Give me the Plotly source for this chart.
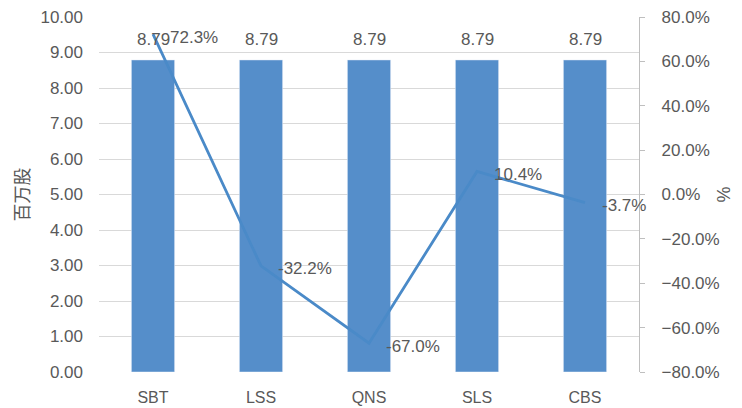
import plotly.graph_objects as go

categories = ["SBT", "LSS", "QNS", "SLS", "CBS"]
shares = [8.79, 8.79, 8.79, 8.79, 8.79]
change_pct = [72.3, -32.2, -67.0, 10.4, -3.7]

bar_color = "#558ECA"
line_color = "#4A8AC8"
text_color = "#595959"
font_family = "Liberation Sans, Arial, sans-serif"

fig = go.Figure()
fig.add_trace(go.Bar(
    x=categories, y=shares, marker_color=bar_color, width=0.4,
    yaxis="y", showlegend=False, hoverinfo="y",
))
fig.add_trace(go.Scatter(
    x=categories, y=[v / 100 for v in change_pct], mode="lines",
    line=dict(color=line_color, width=2.8),
    cliponaxis=False, yaxis="y2", showlegend=False,
))

for c, v in zip(categories, shares):
    fig.add_annotation(x=c, y=v, xref="x", yref="y", text=f"{v:.2f}",
                       showarrow=False, yshift=20,
                       font=dict(size=17, color=text_color, family=font_family))

for c, v in zip(categories, change_pct):
    fig.add_annotation(x=c, y=v / 100, xref="x", yref="y2", text=f"{v:.1f}%",
                       showarrow=False, xanchor="left", xshift=15, yshift=-3,
                       font=dict(size=17, color=text_color, family=font_family))

# The page body keeps its default 8px margin; the figure is sized so it
# reaches the bottom of the 742x408 window.
fig.update_layout(
    width=726, height=400,
    margin=dict(l=91, r=95, t=9, b=36, autoexpand=False),
    paper_bgcolor="white", plot_bgcolor="white",
    font=dict(family=font_family, size=16, color=text_color),
    xaxis=dict(type="category", range=[-0.5, len(categories) - 0.5], autorange=False,
               showline=False, ticks="", tickfont=dict(size=16), ticklabelstandoff=14,
               ticklabeloverflow="allow", automargin=False),
    yaxis=dict(range=[0, 10], dtick=1, tickformat=".2f", automargin=False,
               tickfont=dict(size=17), ticklabelstandoff=15, ticklabeloverflow="allow",
               showgrid=True, gridcolor="#D9D9D9", gridwidth=1.3,
               zeroline=False, showline=False, ticks="",
               title=dict(text="百万股", font=dict(size=18, family="Noto Sans CJK SC"), standoff=14)),
    yaxis2=dict(range=[-0.8, 0.8], dtick=0.2, tickformat=".1%", automargin=False,
                tickfont=dict(size=17), ticklabelstandoff=13, ticklabeloverflow="allow",
                overlaying="y", side="right", showgrid=False, zeroline=False,
                showline=True, linecolor="#BFBFBF", linewidth=1.3,
                ticks="outside", ticklen=5, tickcolor="#BFBFBF",
                title=dict(text="%", font=dict(size=18), standoff=8)),
    bargap=0.6,
)

fig.write_html("out.html")
